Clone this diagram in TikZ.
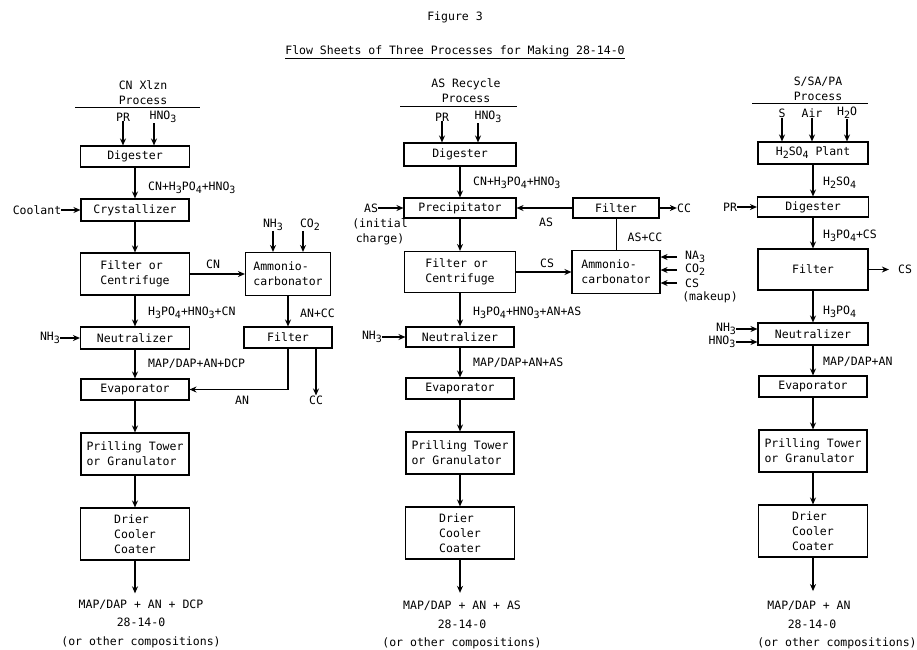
\documentclass[tikz,border=0pt]{standalone}
\usepackage{fontspec}
\setmonofont{DejaVu Sans Mono}
\usetikzlibrary{arrows.meta}
\newcommand{\lowr}[1]{\raisebox{-3pt}{\fontsize{10}{10}\selectfont#1}}

\begin{document}
\begin{tikzpicture}[x=1pt,y=-1pt,
    font=\ttfamily\fontsize{11.5}{15}\selectfont,
    >={Stealth[length=7pt,width=6pt]},
    proc/.style={draw,line width=1.1pt,inner sep=1pt,align=left},
    flow/.style={->,line width=1.2pt},
    lbl/.style={inner sep=0pt},
    prod/.style={inner sep=0pt,align=center,font=\ttfamily\fontsize{11.5}{18.5}\selectfont}]
\path[fill=white,use as bounding box] (0,0) rectangle (917,649);

% title
\node[lbl] (fig) at (455,17) {Figure 3};
\node[lbl] (hdg) at (455,51) {Flow Sheets of Three Processes for Making 28-14-0};
\draw[line width=0.7pt] ([yshift=-2pt]hdg.south west) -- ([yshift=-2pt]hdg.south east);

% column headings
\node[lbl,align=center] (hdA) at (143,93) {CN Xlzn\\Process};
\draw[line width=0.7pt] (75,107) -- (200,107);
\node[lbl,align=center] (hdB) at (466,90.5) {AS Recycle\\Process};
\draw[line width=0.7pt] (400,106) -- (517,106);
\node[lbl,align=center] (hdC) at (818,88.5) {S/SA/PA\\Process};
\draw[line width=0.7pt] (752,103) -- (868,103);

% CN crystallization
\node[proc,minimum width=109pt,minimum height=21pt] (digA) at (135,156.5) {Digester};
\node[proc,minimum width=108pt,minimum height=22pt] (cryA) at (135,210) {Crystallizer};
\node[proc,minimum width=109pt,minimum height=42pt] (filA) at (135,274) {Filter or\\Centrifuge};
\node[proc,minimum width=109pt,minimum height=22pt] (neuA) at (135,338) {Neutralizer};
\node[proc,minimum width=85pt,minimum height=43pt] (amoA) at (288,274) {Ammonio-\\carbonator};
\node[proc,minimum width=88pt,minimum height=21pt] (fltA) at (288,337.5) {Filter};

\node[lbl] (prA) at (123,117) {PR};
\node[lbl] (hnA) at (163,117) {HNO\lowr{3}};
\draw[flow] (prA.south) -- (prA.south |- digA.north);
\draw[flow] ([xshift=-9pt]hnA.south) -- ([xshift=-9pt]hnA.south |- digA.north);
\node[lbl] (coA) at (37,210) {Coolant};
\node[lbl] (nhA) at (50,338) {NH\lowr{3}};
\node[lbl] (nh2A) at (273,225) {NH\lowr{3}};
\node[lbl] (co2A) at (310,225) {CO\lowr{2}};
\draw[flow] (coA) -- (cryA);
\draw[flow] (nhA) -- (neuA);
\draw[flow] (nh2A.south) -- (nh2A.south |- amoA.north);
\draw[flow] ([xshift=-7pt]co2A.south) -- ([xshift=-7pt]co2A.south |- amoA.north);

\draw[flow] (digA) -- (cryA);
\draw[flow] (cryA) -- (filA);
\draw[flow] (filA) -- (neuA);
\draw[flow] (filA) -- (amoA);
\draw[flow] (amoA) -- (fltA);
\node[lbl,anchor=west] (lA1) at (148,188) {CN+H\lowr{3}PO\lowr{4}+HNO\lowr{3}};
\node[lbl,anchor=west] (lA2) at (148,313) {H\lowr{3}PO\lowr{4}+HNO\lowr{3}+CN};
\node[lbl,anchor=west] (lA3) at (148,364) {MAP/DAP+AN+DCP};
\node[lbl] (cnA) at (213,264) {CN};
\node[lbl,anchor=west] (ancA) at (300,313) {AN+CC};
\node[lbl] (anA) at (242,400) {AN};
\node[lbl] (ccA) at (316,400) {CC};
\draw[flow] (fltA.south -| ccA) -- (ccA);

% AS recycle
\node[proc,minimum width=112pt,minimum height=23pt] (digB) at (460,154.5) {Digester};
\node[proc,minimum width=112pt,minimum height=20pt] (preB) at (460,208) {Precipitator};
\node[proc,minimum width=111pt,minimum height=41pt] (filB) at (460,272) {Filter or\\Centrifuge};
\node[proc,minimum width=108pt,minimum height=20pt] (neuB) at (460,337) {Neutralizer};
\node[proc,minimum width=86pt,minimum height=20pt] (fltB) at (616,208) {Filter};
\node[proc,minimum width=88pt,minimum height=43pt] (amoB) at (616,272) {Ammonio-\\carbonator};

\node[lbl] (prB) at (442,117) {PR};
\node[lbl] (hnB) at (488,117) {HNO\lowr{3}};
\draw[flow] (prB.south) -- (prB.south |- digB.north);
\draw[flow] ([xshift=-10pt]hnB.south) -- ([xshift=-10pt]hnB.south |- digB.north);
\node[lbl] (asB) at (371,208) {AS};
\node[lbl,align=center] (icB) at (380,231.5) {(initial\\charge)};
\node[lbl] (nhB) at (372,337) {NH\lowr{3}};
\draw[flow] (asB) -- (preB);
\draw[flow] (nhB) -- (neuB);

\draw[flow] (digB) -- (preB);
\draw[flow] (preB) -- (filB);
\draw[flow] (filB) -- (neuB);
\draw[flow] (filB) -- (amoB);
\draw[flow] (fltB) -- (preB);
\draw[line width=0.6pt] (amoB) -- (fltB);
\node[lbl,anchor=west] (lB1) at (473,183) {CN+H\lowr{3}PO\lowr{4}+HNO\lowr{3}};
\node[lbl,anchor=west] (lB2) at (473,313) {H\lowr{3}PO\lowr{4}+HNO\lowr{3}+AN+AS};
\node[lbl,anchor=west] (lB3) at (473,363) {MAP/DAP+AN+AS};
\node[lbl] (asrB) at (546,222) {AS};
\node[lbl] (csB) at (547,263) {CS};
\node[lbl] (ascB) at (645,237) {AS+CC};
\node[lbl] (ccB) at (684,208) {CC};
\draw[flow] (fltB) -- (ccB);
\foreach \n/\y/\t in {naB/257/{NA\lowr{3}}, coB/270/{CO\lowr{2}}, mkB/283/{CS}}
  {\node[lbl,anchor=west] (\n) at (685,\y) {\t};
   \draw[flow] ([xshift=-8pt]\n.west) -- (\n.west -| amoB.east);}
\node[lbl] (muB) at (710,297) {(makeup)};

% S/SA/PA
\node[proc,minimum width=110pt,minimum height=22pt] (h2sC) at (813,153) {H\lowr{2}SO\lowr{4} Plant};
\node[proc,minimum width=111pt,minimum height=20pt] (digC) at (813,207) {Digester};
\node[proc,minimum width=110pt,minimum height=41pt] (filC) at (813,269.5) {Filter};
\node[proc,minimum width=110pt,minimum height=22pt] (neuC) at (813,334) {Neutralizer};

\foreach \n/\x/\t in {sC/782/S, airC/812/Air, wC/847/{H\lowr{2}O}}
  {\node[lbl] (\n) at (\x,113) {\t};
   \draw[flow] (\n.south) -- (\n.south |- h2sC.north);}
\node[lbl] (prC) at (730,207) {PR};
\node[lbl] (csC) at (905,269.5) {CS};
\node[lbl] (nhC) at (726,329) {NH\lowr{3}};
\node[lbl] (hnC) at (722,342) {HNO\lowr{3}};
\draw[flow] (prC) -- (digC);
\draw[flow] (filC) -- ([xshift=-9pt]csC.west);
\draw[flow] (nhC) -- (nhC -| neuC.west);
\draw[flow] (hnC) -- (hnC -| neuC.west);

\draw[flow] (h2sC) -- (digC);
\draw[flow] (digC) -- (filC);
\draw[flow] (filC) -- (neuC);
\node[lbl,anchor=west] (lC1) at (823,183) {H\lowr{2}SO\lowr{4}};
\node[lbl,anchor=west] (lC2) at (823,236) {H\lowr{3}PO\lowr{4}+CS};
\node[lbl,anchor=west] (lC3) at (823,312) {H\lowr{3}PO\lowr{4}};
\node[lbl,anchor=west] (lC4) at (823,362) {MAP/DAP+AN};

% common finishing steps
\foreach \c/\x/\d in {A/135/0, B/460/1, C/813/3}
  {\node[proc,minimum width=108pt,minimum height=21pt] (eva\c) at (\x,389.5-\d) {Evaporator};
   \node[proc,minimum width=108pt,minimum height=42pt] (pri\c) at (\x,454-\d) {Prilling Tower\\or Granulator};
   \node[proc,minimum width=109pt,minimum height=52pt] (dri\c) at (\x,534-\d) {Drier\\Cooler\\Coater};
   \draw[flow] (neu\c) -- (eva\c);
   \draw[flow] (eva\c) -- (pri\c);
   \draw[flow] (pri\c) -- (dri\c);}
\draw[flow] (fltA.south) |- (evaA);

% products
\node[prod] (outA) at (141,623.5) {MAP/DAP + AN + DCP\\28-14-0\\(or other compositions)};
\node[prod] (outB) at (462,625) {MAP/DAP + AN + AS\\28-14-0\\(or other compositions)};
\node[lbl] (outC) at (809,606) {MAP/DAP + AN};
\node[lbl] (numC) at (812,624) {28-14-0};
\node[lbl] (othC) at (837,643) {(or other compositions)};
\draw[flow] (driA.south) -- ([yshift=6pt]driA.south |- outA.north);
\draw[flow] (driB.south) -- ([yshift=8pt]driB.south |- outB.north);
\draw[flow] (driC.south) -- ([yshift=10pt]driC.south |- outC.north);
\end{tikzpicture}
\end{document}
